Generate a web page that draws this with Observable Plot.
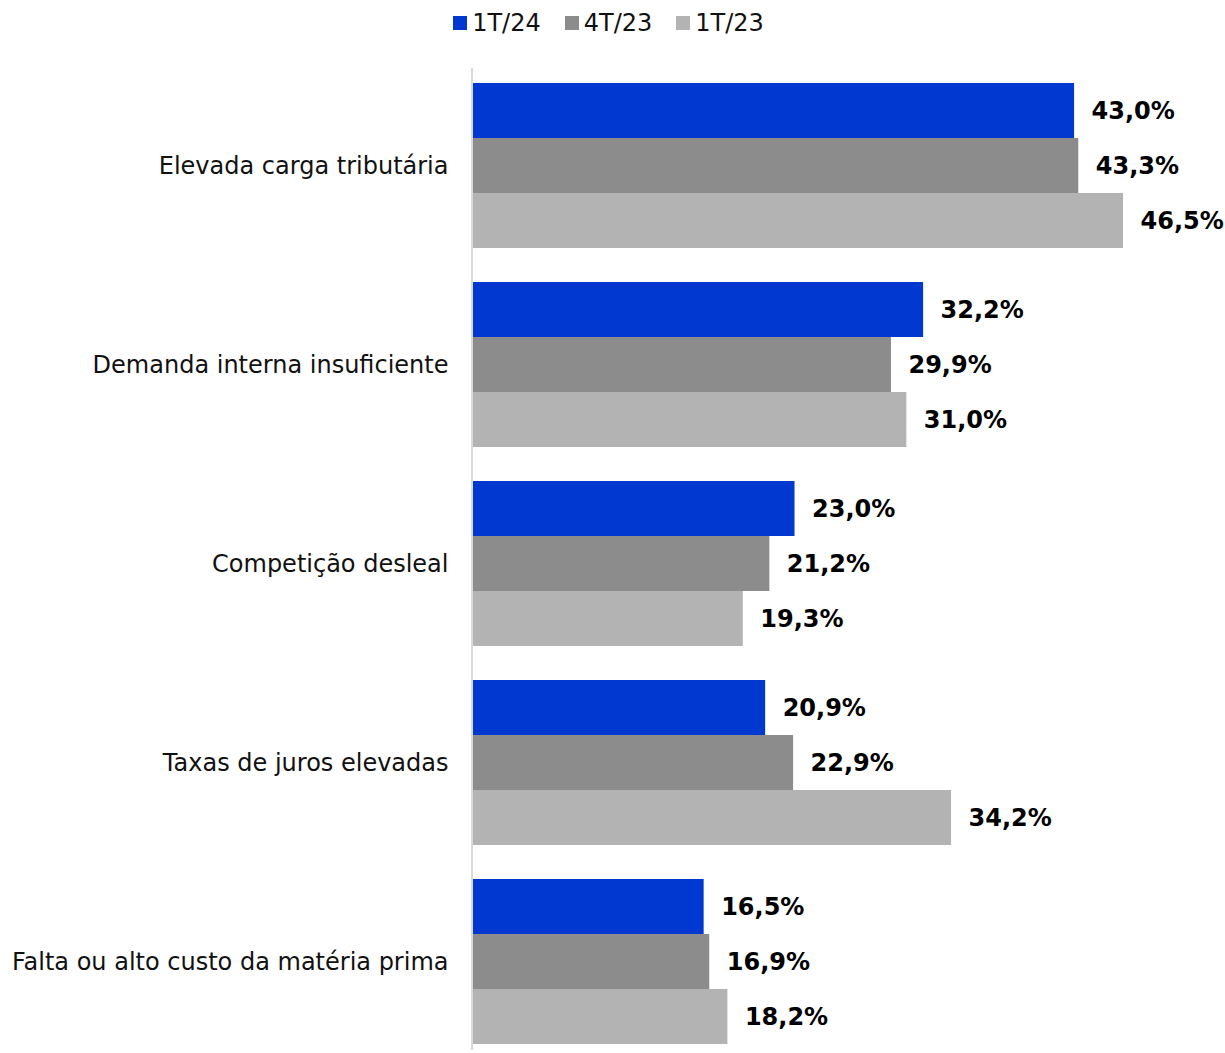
<!DOCTYPE html>
<html><head><meta charset="utf-8">
<script src="https://cdn.jsdelivr.net/npm/d3@7"></script>
<script src="https://cdn.jsdelivr.net/npm/@observablehq/plot@0.6"></script>
<style>
body{margin:0;background:#fff;font-family:"DejaVu Sans",sans-serif;}
#legend{height:45px;display:flex;justify-content:center;align-items:center;gap:24px;font-size:24px;color:#111;padding-right:8px}
#legend span.sw{display:inline-block;width:14px;height:14px;margin-right:5px;vertical-align:middle}
#legend div{display:flex;align-items:center}
#chart svg{display:block}
</style></head>
<body>
<div id="legend"></div>
<div id="chart"></div>
<script>
const categories = ["Elevada carga tributária","Demanda interna insuficiente","Competição desleal","Taxas de juros elevadas","Falta ou alto custo da matéria prima"];
const seriesNames = ["1T/24","4T/23","1T/23"];
const v1T24 = [43.0,32.2,23.0,20.9,16.5];
const v4T23 = [43.3,29.9,21.2,22.9,16.9];
const v1T23 = [46.5,31.0,19.3,34.2,18.2];
const colors = ["#0038d0","#8c8c8c","#b3b3b3"];

const seriesVals = [v1T24, v4T23, v1T23];
const data = [];
categories.forEach((c,i)=>seriesNames.forEach((s,j)=>data.push({cat:c, series:s, value:seriesVals[j][i]})));

const leg = document.getElementById("legend");
seriesNames.forEach((s,j)=>{
  const d = document.createElement("div");
  d.innerHTML = `<span class="sw" style="background:${colors[j]}"></span>${s}`;
  leg.appendChild(d);
});

const fmt = v => v.toFixed(1).replace(".", ",") + "%";

const plot = Plot.plot({
  width: 1225,
  height: 1008,
  marginLeft: 473,
  marginRight: 102,
  marginTop: 36,
  marginBottom: 6,
  style: {fontSize: "24px", fontFamily: '"DejaVu Sans",sans-serif', color: "#111", background: "#fff"},
  x: {domain: [0, 46.5], axis: null},
  y: {domain: seriesNames, axis: null, padding: 0},
  fy: {domain: categories, paddingInner: 0.16, paddingOuter: 0, label: null, tickSize: 0, tickPadding: 25},
  color: {domain: seriesNames, range: colors},
  marks: [
    Plot.barX(data, {fy: "cat", y: "series", x: "value", fill: "series"}),
    Plot.text(data, {fy: "cat", y: "series", x: "value", text: d => fmt(d.value), textAnchor: "start", dx: 17, fontWeight: "bold", fill: "#000"})
  ]
});
document.getElementById("chart").appendChild(plot);

const x0 = plot.scale("x").apply(0);
d3.select(plot).append("line")
  .attr("x1", x0 - 1).attr("x2", x0 - 1)
  .attr("y1", 23).attr("y2", 1005)
  .attr("stroke", "#d9d9d9").attr("stroke-width", 2);
</script>
</body></html>
